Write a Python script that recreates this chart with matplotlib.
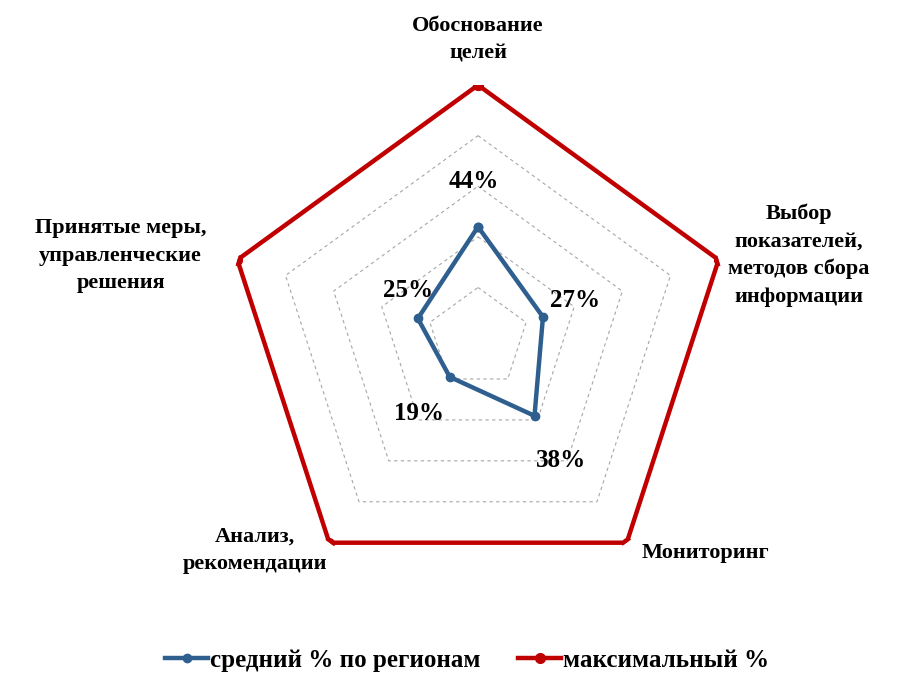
import numpy as np
import matplotlib
matplotlib.use("Agg")
import matplotlib.pyplot as plt

categories = ["Обоснование\nцелей",
              "Выбор\nпоказателей,\nметодов сбора\nинформации",
              "Мониторинг",
              "Анализ,\nрекомендации",
              "Принятые меры,\nуправленческие\nрешения"]
avg_values = [44, 27, 38, 19, 25]
max_values = [100, 100, 100, 100, 100]
grid_levels = [20, 40, 60, 80]
series_names = ["средний % по регионам", "максимальный %"]

plt.rcParams['font.family'] = ['Liberation Serif', 'DejaVu Serif']

fig = plt.figure(figsize=(8.99, 6.75), dpi=100)
ax = fig.add_axes([0.2503, 0.1244, 0.5628, 0.7496], projection='polar')
ax.set_theta_offset(np.pi / 2)
ax.set_theta_direction(-1)
ax.set_ylim(0, 100)
ax.grid(False)
ax.set_xticks([])
ax.set_yticks([])
ax.spines['polar'].set_visible(False)
ax.patch.set_visible(False)

n = len(categories)
angles = np.linspace(0, 2 * np.pi, n, endpoint=False)
closed = np.append(angles, angles[0])

# пунктирная сетка
for lvl in grid_levels:
    ax.plot(closed, [lvl] * (n + 1), color='#a6a6a6', lw=0.8,
            ls=(0, (3, 3)), zorder=1)

blue = '#2f5f8f'
red = '#c00000'
ax.plot(closed, max_values + max_values[:1], color=red, lw=3.2,
        marker='o', ms=7, label=series_names[1], zorder=3)
ax.plot(closed, avg_values + avg_values[:1], color=blue, lw=3.2,
        marker='o', ms=6, label=series_names[0], zorder=4)

# подписи значений
offsets = [(-4, 45), (32, 16), (27, -45), (-31, -37), (-10, 28)]
for a, v, off in zip(angles, avg_values, offsets):
    ax.annotate(f"{v}%", (a, v), xytext=off, textcoords='offset pixels',
                ha='center', va='center', fontsize=18, fontweight='bold',
                zorder=5)

# подписи категорий
label_pos = [(0, 118), (75.5, 131), (133.4, 123.6), (226.4, 121.6), (283, 145)]
for txt, (deg, r) in zip(categories, label_pos):
    ax.text(np.deg2rad(deg), r, txt, ha='center', va='center',
            fontsize=16, fontweight='bold', linespacing=1.5)

handles, labels = ax.get_legend_handles_labels()
fig.legend(handles[::-1], labels[::-1], loc='center', ncol=2,
           bbox_to_anchor=(0.52, 0.022), frameon=False,
           handlelength=1.7, handletextpad=0.1, columnspacing=1.5,
           prop={'weight': 'bold', 'size': 18})

fig.savefig("out.png", dpi=100, facecolor='white')
